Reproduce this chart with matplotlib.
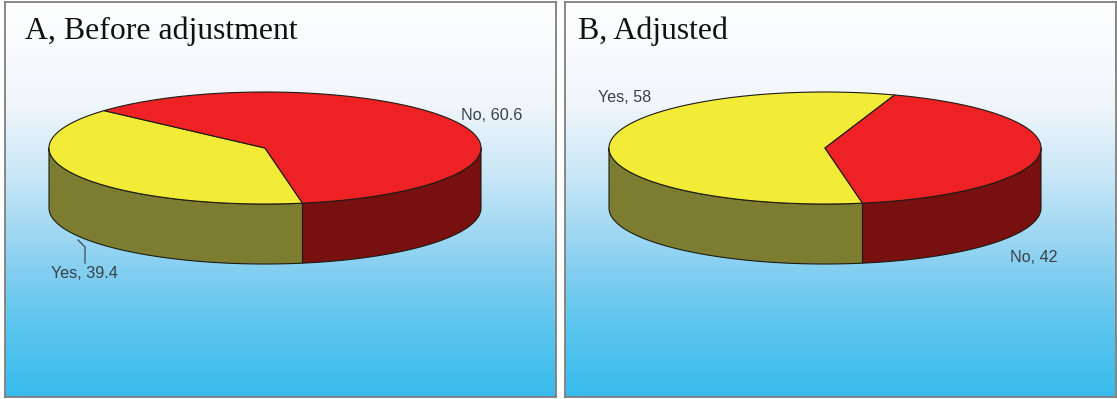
import numpy as np
import matplotlib
matplotlib.use("Agg")
import matplotlib.pyplot as plt
from matplotlib.colors import LinearSegmentedColormap

# Survey shares for each panel
panel_titles = ["A, Before adjustment", "B, Adjusted"]
yes_shares = [39.4, 58]
no_shares = [60.6, 42]
share_names = ["Yes", "No"]

FIG_W, FIG_H = 1117, 399
PANEL_X = [5, 565]
PANEL_Y = 2
PANEL_W, PANEL_H = 551, 395

# Pie geometry in panel pixels
CENTER_X, CENTER_Y = 260, 146
RX, RY, DEPTH = 216, 56, 60
START_ANGLE = -80  # yes slice runs clockwise from here

TOP_COLORS = {"Yes": "#f2eb38", "No": "#ee2225"}
SIDE_COLORS = {"Yes": "#7d7d32", "No": "#781010"}
EDGE = "#1c1c14"
TEXT_COLOR = "#3a4048"

background = LinearSegmentedColormap.from_list(
    "panel_bg",
    [(0.0, "#ffffff"), (0.25, "#f2f6fb"), (0.45, "#c6e6f6"),
     (0.65, "#8dd1f1"), (0.82, "#5cc5ee"), (1.0, "#38bcec")],
)


def arc(a0, a1, dy=0):
    t = np.radians(np.linspace(a0, a1, 200))
    return CENTER_X + RX * np.cos(t), CENTER_Y - RY * np.sin(t) + dy


def draw_slice_side(ax, a0, a1, color):
    # only the part facing the viewer (180..360 degrees) is visible
    lo = max(a0, 180)
    hi = min(a1, 360)
    if hi <= lo:
        return
    x_top, y_top = arc(lo, hi)
    x_bot, y_bot = arc(lo, hi, DEPTH)
    ax.fill(
        np.concatenate([x_top, x_bot[::-1]]),
        np.concatenate([y_top, y_bot[::-1]]),
        facecolor=color, edgecolor=EDGE, linewidth=0.8, joinstyle="round",
    )


def draw_slice_top(ax, a0, a1, color):
    x, y = arc(a0, a1)
    ax.fill(
        np.concatenate([[CENTER_X], x]),
        np.concatenate([[CENTER_Y], y]),
        facecolor=color, edgecolor=EDGE, linewidth=0.8, joinstyle="round",
    )


def draw_pie(ax, yes, no):
    total = yes + no
    split = START_ANGLE + 360
    yes_start = split - 360 * yes / total
    # yes goes clockwise from the front split, no takes the remainder
    slices = [("Yes", yes_start, split), ("No", split, split + 360 * no / total)]
    for name, a0, a1 in slices:
        draw_slice_side(ax, a0, a1, SIDE_COLORS[name])
        draw_slice_side(ax, a0 - 360, a1 - 360, SIDE_COLORS[name])
        draw_slice_side(ax, a0 + 360, a1 + 360, SIDE_COLORS[name])
    for name, a0, a1 in slices:
        draw_slice_top(ax, a0, a1, TOP_COLORS[name])


fig = plt.figure(figsize=(FIG_W / 100, FIG_H / 100), dpi=100, facecolor="white")

title_x = [20, 13]
label_spots = [
    [(46, 277), (456, 119)],
    [(33, 102), (445, 262)],
]

for i in range(2):
    ax = fig.add_axes([
        PANEL_X[i] / FIG_W,
        1 - (PANEL_Y + PANEL_H) / FIG_H,
        PANEL_W / FIG_W,
        PANEL_H / FIG_H,
    ])
    ax.set_xlim(0, PANEL_W)
    ax.set_ylim(PANEL_H, 0)
    ax.imshow(
        np.linspace(0, 1, 256).reshape(-1, 1),
        cmap=background, aspect="auto", extent=[0, PANEL_W, PANEL_H, 0],
    )
    ax.set_xticks([])
    ax.set_yticks([])
    for spine in ax.spines.values():
        spine.set_color("#7f7f7f")
        spine.set_linewidth(1.3)

    draw_pie(ax, yes_shares[i], no_shares[i])

    ax.text(title_x[i], 29.5, panel_titles[i], family="Liberation Serif", fontsize=22.9,
            color="#111111", va="center", ha="left")

    values = [yes_shares[i], no_shares[i]]
    for name, value, (lx, ly) in zip(share_names, values, label_spots[i]):
        ax.text(lx, ly - 6, f"{name}, {value}", family="Liberation Sans",
                fontsize=11.6, color=TEXT_COLOR, va="center", ha="left")

    # the small yes label in panel A sits on a leader line
    if i == 0:
        ax.plot([73, 80, 80], [238, 245, 261], color="#3a4a50", linewidth=0.9)

fig.savefig("out.png", dpi=100)
